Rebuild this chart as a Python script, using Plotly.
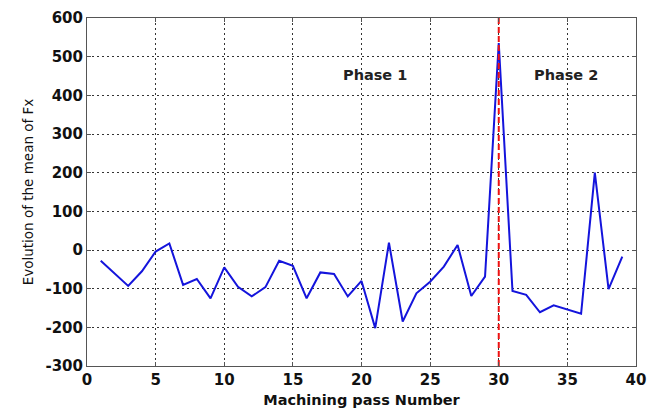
import plotly.graph_objects as go

# Machining pass numbers and mean Fx for each pass
passes = list(range(1, 40))
mean_fx = [-28, -60, -93, -55, -4, 17, -90, -75, -125, -45,
           -95, -120, -96, -28, -41, -125, -58, -62, -120, -80,
           -202, 19, -185, -112, -82, -43, 13, -119, -69, 535,
           -106, -116, -161, -143, -153, -165, 200, -101, -17]

phase_split = 30
phase_labels = ["Phase 1", "Phase 2"]
phase_label_x = [21, 34.9]
phase_label_y = [452, 452]

x_ticks = [0, 5, 10, 15, 20, 25, 30, 35, 40]
y_ticks = [-300, -200, -100, 0, 100, 200, 300, 400, 500, 600]

FONT = "DejaVu Sans, Verdana, sans-serif"

fig = go.Figure()

fig.add_trace(go.Scatter(
    x=passes, y=mean_fx, mode="lines",
    line=dict(color="#1414dc", width=2),
    showlegend=False,
))

# Boundary between the two phases
fig.add_trace(go.Scatter(
    x=[phase_split, phase_split], y=[y_ticks[0], y_ticks[-1]], mode="lines",
    line=dict(color="#ee1111", width=2, dash="6px,3px"),
    showlegend=False,
))

for txt, px, py in zip(phase_labels, phase_label_x, phase_label_y):
    fig.add_annotation(
        x=px, y=py, text=f"<b>{txt}</b>", showarrow=False,
        font=dict(family=FONT, size=14.5, color="#222222"),
    )

axis_common = dict(
    showline=True, linecolor="#555555", linewidth=1, mirror="ticks",
    ticks="inside", ticklen=4, tickcolor="#555555",
    showgrid=True, gridcolor="#333333", gridwidth=1, griddash="2px,3px",
    zeroline=False, automargin=False,
    tickfont=dict(family=FONT, size=15, color="#111111", weight="bold"),
)

fig.update_xaxes(
    range=[0, 40], tickvals=x_ticks, ticktext=[str(v) for v in x_ticks],
    title=dict(text="<b>Machining pass Number</b>", standoff=6,
               font=dict(family=FONT, size=14.5, color="#111111")),
    **axis_common,
)
fig.update_yaxes(
    range=[-300, 600], tickvals=y_ticks, ticktext=[str(v) for v in y_ticks],
    title=dict(text="Evolution of the mean of Fx", standoff=8,
               font=dict(family=FONT, size=13.5, color="#111111")),
    **axis_common,
)

fig.update_layout(
    width=657, height=411,
    margin=dict(l=87, r=21, t=18, b=45),
    paper_bgcolor="white", plot_bgcolor="white",
)

fig.write_html("out.html")
